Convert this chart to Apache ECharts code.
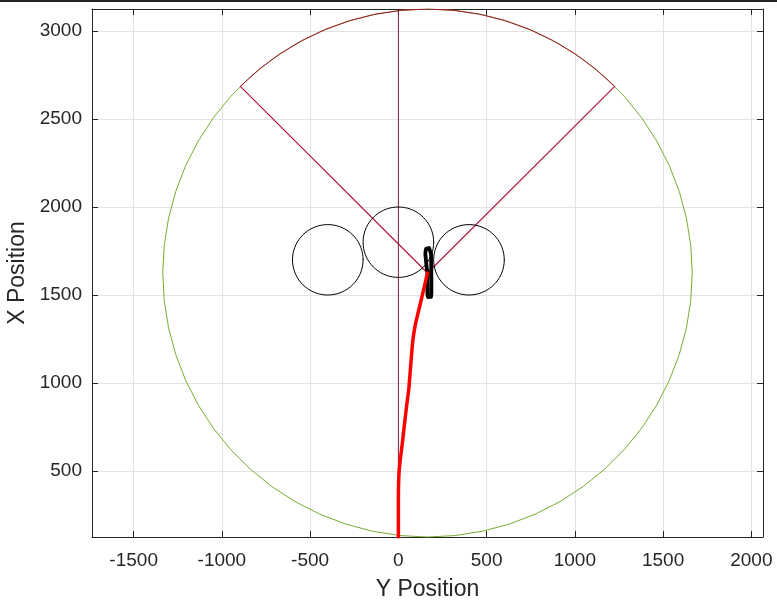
<!DOCTYPE html>
<html>
<head>
<meta charset="utf-8">
<script src="https://cdn.jsdelivr.net/npm/echarts@6/dist/echarts.min.js"></script>
<style>
  html, body { margin: 0; padding: 0; background: #fff; }
  #chart { width: 777px; height: 607px; }
</style>
</head>
<body>
<div id="chart"></div>
<script>
// Axis extents and tick labels
const xRange = [-1736, 2066];
const yRange = [125, 3125];
const xTicks = [-1500, -1000, -500, 0, 500, 1000, 1500, 2000];
const yTicks = [500, 1000, 1500, 2000, 2500, 3000];

// Arena: outer boundary circle and the forward sector
const arenaCenter = [165, 1625];
const arenaRadius = 1500;
const sectorAnglesDeg = [45, 135];

// Obstacles
const obstacleCenters = [[-400, 1700], [0, 1800], [400, 1700]];
const obstacleRadius = 200;

// Reference heading line along Y = 0
const headingX = [0, 0];
const headingY = [125, 3125];

// Approach trajectory (red)
const approachX = [0, 0, 1, 5, 14, 25, 36, 48, 59, 68, 77, 83, 95, 112, 130, 148, 165];
const approachY = [125, 340, 420, 510, 590, 680, 780, 880, 965, 1077, 1190, 1250, 1326, 1400, 1475, 1552, 1625];

// Manoeuvre loop (black)
const loopX = [165, 160, 156, 153, 154, 158, 166, 174, 181, 185, 186, 187, 187, 185, 180, 174, 168, 165, 164, 165];
const loopY = [1625, 1660, 1700, 1730, 1750, 1764, 1770, 1767, 1756, 1735, 1700, 1600, 1510, 1490, 1482, 1482, 1488, 1500, 1560, 1625];

function zip(xs, ys) { return xs.map((x, i) => [x, ys[i]]); }

// Polygonal arc around a centre, angles in degrees
function arcPoints(c, r, a0, a1, n) {
  const pts = [];
  for (let i = 0; i <= n; i++) {
    const a = (a0 + (a1 - a0) * i / n) * Math.PI / 180;
    pts.push([c[0] + r * Math.cos(a), c[1] + r * Math.sin(a)]);
  }
  return pts;
}

const axisColor = '#262626';
const gridColor = '#e3e3e3';
const font = 'Liberation Sans, Arial, Helvetica, sans-serif';

function lineSeries(data, color, width) {
  return {
    type: 'line', data: data, showSymbol: false, symbol: 'none',
    lineStyle: { color: color, width: width, join: 'round', cap: 'round' },
    silent: true, z: 3
  };
}

const series = [];
// arena boundary (green, full circle)
series.push(lineSeries(arcPoints(arenaCenter, arenaRadius, -90, 270, 60), '#77AC30', 1));
// forward arc of the sector
series.push(lineSeries(arcPoints(arenaCenter, arenaRadius, sectorAnglesDeg[0], sectorAnglesDeg[1], 16), '#A2142F', 1));
// sector edges
sectorAnglesDeg.forEach(function (deg) {
  const a = deg * Math.PI / 180;
  series.push(lineSeries([arenaCenter, [arenaCenter[0] + arenaRadius * Math.cos(a), arenaCenter[1] + arenaRadius * Math.sin(a)]], '#B5193A', 1.2));
});
// heading line
series.push(lineSeries(zip(headingX, headingY), '#7E1E3A', 1));
// obstacles
obstacleCenters.forEach(function (c) {
  series.push(lineSeries(arcPoints(c, obstacleRadius, 0, 360, 72), '#000000', 1));
});
// trajectories
const loop = lineSeries(zip(loopX, loopY), '#000000', 3.8);
loop.z = 4;
series.push(loop);
const approach = lineSeries(zip(approachX, approachY), '#FF0000', 3.5);
approach.smooth = 0.15; approach.z = 5;
series.push(approach);

const plain = function (v) { return String(v); };

const chart = echarts.init(document.getElementById('chart'), null, { renderer: 'canvas' });
chart.setOption({
  animation: false,
  backgroundColor: '#ffffff',
  grid: { left: 92, right: 14, top: 9, bottom: 70, containLabel: false, outerBoundsMode: 'none' },
  xAxis: [{
    type: 'value', min: xRange[0], max: xRange[1], position: 'bottom',
    name: 'Y Position', nameLocation: 'middle', nameGap: 41,
    nameTextStyle: { fontSize: 23, color: axisColor, fontFamily: font },
    axisLine: { show: true, onZero: false, lineStyle: { color: axisColor, width: 1 } },
    axisTick: { show: true, inside: true, length: 6, customValues: xTicks, lineStyle: { color: axisColor } },
    axisLabel: { customValues: xTicks, formatter: plain, fontSize: 19, color: axisColor, fontFamily: font, margin: 14 },
    splitLine: { show: true, lineStyle: { color: gridColor, width: 1 } }
  }, {
    type: 'value', min: xRange[0], max: xRange[1], position: 'top',
    axisLine: { show: true, onZero: false, lineStyle: { color: axisColor, width: 1 } },
    axisTick: { show: true, inside: true, length: 6, customValues: xTicks, lineStyle: { color: axisColor } },
    axisLabel: { show: false },
    splitLine: { show: false }
  }],
  yAxis: [{
    type: 'value', min: yRange[0], max: yRange[1], position: 'left',
    name: 'X Position', nameLocation: 'middle', nameGap: 62,
    nameTextStyle: { fontSize: 23, color: axisColor, fontFamily: font },
    axisLine: { show: true, onZero: false, lineStyle: { color: axisColor, width: 1 } },
    axisTick: { show: true, inside: true, length: 6, customValues: yTicks, lineStyle: { color: axisColor } },
    axisLabel: { customValues: yTicks, formatter: plain, fontSize: 19, color: axisColor, fontFamily: font, margin: 10 },
    splitLine: { show: true, lineStyle: { color: gridColor, width: 1 } }
  }, {
    type: 'value', min: yRange[0], max: yRange[1], position: 'right',
    axisLine: { show: true, onZero: false, lineStyle: { color: axisColor, width: 1 } },
    axisTick: { show: true, inside: true, length: 6, customValues: yTicks, lineStyle: { color: axisColor } },
    axisLabel: { show: false },
    splitLine: { show: false }
  }],
  graphic: [{
    type: 'line', shape: { x1: 0, y1: 1, x2: 777, y2: 1 },
    style: { stroke: '#222222', lineWidth: 2 }, silent: true
  }],
  series: series
});
</script>
</body>
</html>
